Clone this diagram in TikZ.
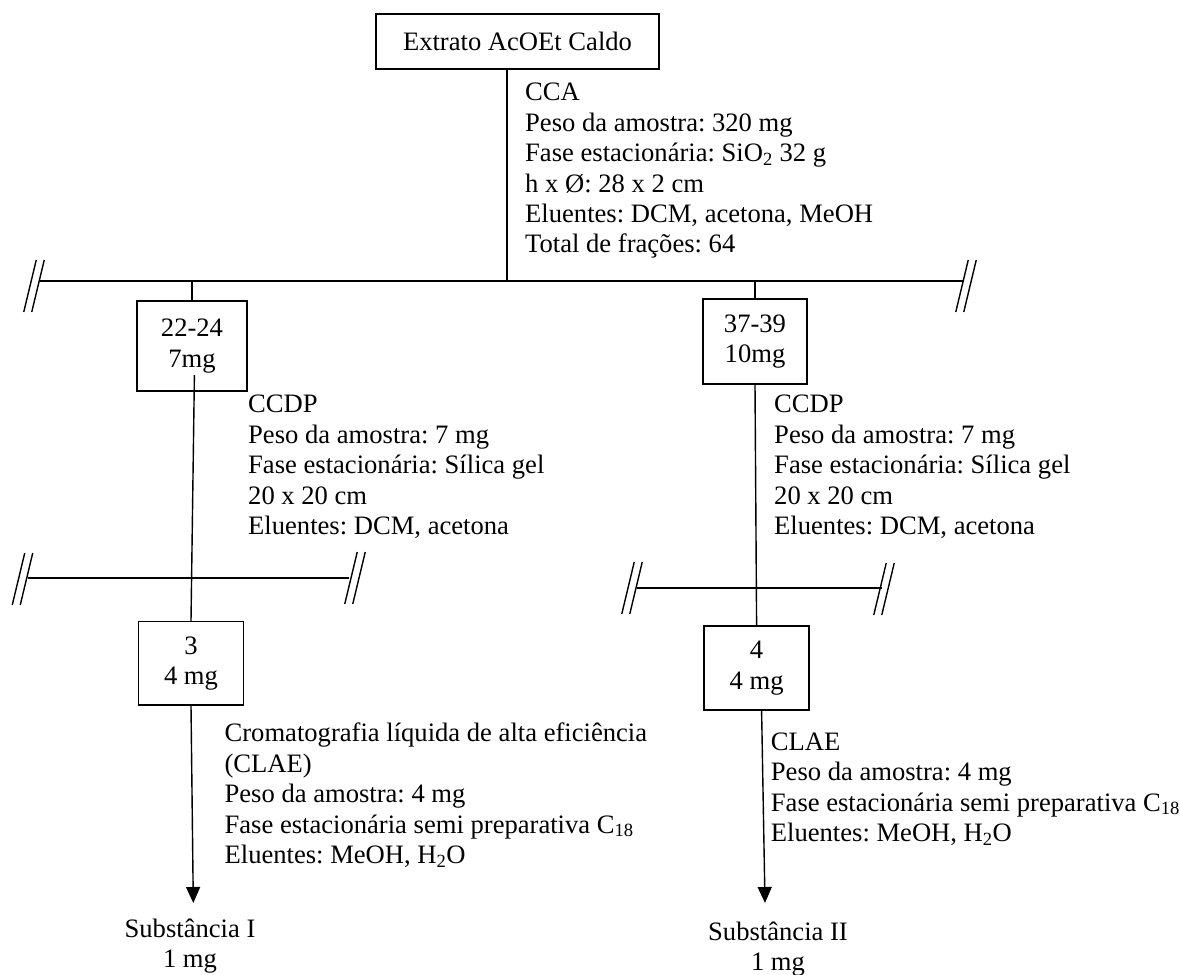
\documentclass[tikz,border=0pt]{standalone}
\usepackage{fontspec}
\setmainfont{Liberation Serif}
\usetikzlibrary{arrows.meta}
\frenchspacing
\begin{document}
\begin{tikzpicture}[x=1pt,y=-1pt,
  every node/.style={inner sep=0pt, font=\fontsize{26.6}{30.4}\selectfont},
  fracbox/.style={draw, line width=1.6pt, align=center},
  infotext/.style={anchor=north west, align=left},
  result/.style={anchor=north, align=center},
  link/.style={line width=1.4pt},
  flowarrow/.style={line width=1.4pt, -{Triangle[width=14pt,length=16pt]}},
  breakmark/.pic={\draw[line width=1.4pt]
      (-10.25,26) -- (2.25,-26) (-2.25,26) -- (10.25,-26);},
]
\setlength{\lineskiplimit}{-50pt}
\useasboundingbox (0,0) rectangle (1180,974);

% starting extract
\node[fracbox, minimum width=283pt, minimum height=55pt] (top) at (517.5,41.5)
  {Extrato AcOEt Caldo};

% column chromatography
\coordinate (busA) at (507,281);
\coordinate (busAL) at (40,281);
\coordinate (busAR) at (964,281);
\draw[link] (top.south -| busA) -- (busA);
\draw[link] (busAL) -- (busAR);
\pic at (34,286) {breakmark};
\pic at (966,286) {breakmark};
\node[infotext] (cca) at (525,79.7)
  {\rule{0pt}{21pt}CCA\\
   Peso da amostra: 320 mg\\
   Fase estacionária: SiO\textsubscript{2} 32 g\\
   h x Ø: 28 x 2 cm\\
   Eluentes: DCM, acetona, MeOH\\
   Total de frações: 64};

% selected fractions
\node[fracbox, minimum width=110pt, minimum height=90pt] (L1) at (192,346)
  {22-24\\7mg};
\node[fracbox, minimum width=104pt, minimum height=85pt] (R1) at (755,341.6)
  {37-39\\10mg};
\draw[link] (L1.north) -- (L1.north |- busA);
\draw[link] (R1.north) -- (R1.north |- busA);

% preparative TLC, left
\node[infotext] (ccdpL) at (248,391.7)
  {\rule{0pt}{21pt}CCDP\\
   Peso da amostra: 7 mg\\
   Fase estacionária: Sílica gel\\
   20 x 20 cm\\
   Eluentes: DCM, acetona};
\coordinate (busBL) at (28,578);
\coordinate (busBR) at (349,578);
\draw[link] (busBL) -- (busBR);
\pic at (22.5,579) {breakmark};
\pic at (355,578) {breakmark};

% preparative TLC, right
\node[infotext] (ccdpR) at (774,391.7)
  {\rule{0pt}{21pt}CCDP\\
   Peso da amostra: 7 mg\\
   Fase estacionária: Sílica gel\\
   20 x 20 cm\\
   Eluentes: DCM, acetona};
\coordinate (busCL) at (637,588);
\coordinate (busCR) at (882,588);
\draw[link] (busCL) -- (busCR);
\pic at (632,588) {breakmark};
\pic at (884,589) {breakmark};

% isolated compounds
\node[fracbox, minimum width=105pt, minimum height=83.5pt] (L2) at (191,663.3)
  {3\\4 mg};
\node[fracbox, minimum width=105pt, minimum height=84pt] (R2) at (756.6,668)
  {4\\4 mg};
\coordinate (l1tail) at (194.4,375);
\draw[link] (l1tail) -- (L2.north);
\draw[link] (R1.south) -- (R2.north);

% HPLC, left
\node[infotext] (hplcL) at (224.4,720.7)
  {\rule{0pt}{21pt}Cromatografia líquida de alta eficiência\\
   (CLAE)\\
   Peso da amostra: 4 mg\\
   Fase estacionária semi preparativa C\textsubscript{18}\\
   Eluentes: MeOH, H\textsubscript{2}O};

% HPLC, right
\node[infotext] (hplcR) at (770.7,729)
  {\rule{0pt}{21pt}CLAE\\
   Peso da amostra: 4 mg\\
   Fase estacionária semi preparativa C\textsubscript{18}\\
   Eluentes: MeOH, H\textsubscript{2}O};

% final substances
\node[result] (subI) at (190,916.3) {\rule{0pt}{21pt}Substância I\\1 mg};
\node[result] (subII) at (778,919) {\rule{0pt}{21pt}Substância II\\1 mg};
\coordinate (tipI) at (193.3,903);
\coordinate (tipII) at (765,903);
\draw[flowarrow] (L2.south) -- (tipI);
\draw[flowarrow] ([xshift=5pt]R2.south) -- (tipII);
\end{tikzpicture}
\end{document}
